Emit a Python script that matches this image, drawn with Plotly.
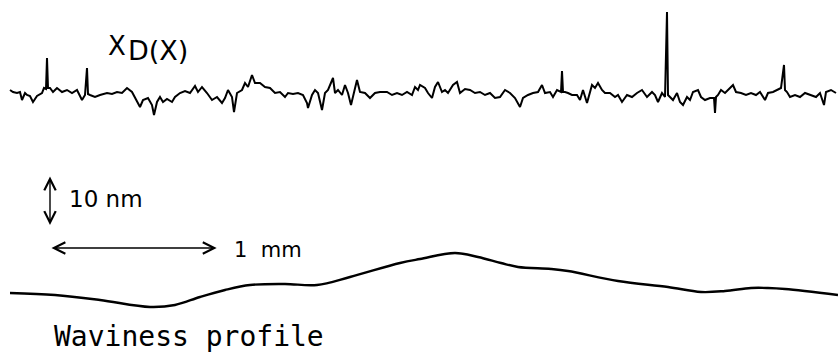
import plotly.graph_objects as go

# Roughness profile X_D(x): scan position (µm) and height (nm) about its mean line
rough_x_um = [60, 78, 102, 120, 132, 150, 162, 180, 198, 222, 252, 264, 276, 282, 288, 300, 318, 342, 372, 402,
              432, 462, 492, 510, 522, 528, 540, 570, 600, 642, 672, 702, 732, 762, 792, 822, 840, 858, 888, 912,
              924, 942, 960, 978, 1002, 1032, 1050, 1080, 1110, 1140, 1170, 1188, 1212, 1242, 1272, 1302, 1332, 1350, 1368, 1392,
              1404, 1422, 1452, 1470, 1488, 1512, 1530, 1560, 1590, 1620, 1650, 1680, 1710, 1728, 1758, 1788, 1818, 1842, 1848, 1872,
              1890, 1908, 1932, 1950, 1968, 1998, 2010, 2028, 2052, 2070, 2088, 2106, 2124, 2142, 2160, 2190, 2220, 2250, 2280, 2322,
              2352, 2382, 2412, 2442, 2472, 2490, 2508, 2520, 2550, 2568, 2592, 2610, 2628, 2652, 2670, 2688, 2718, 2742, 2760, 2790,
              2820, 2850, 2880, 2910, 2940, 2970, 3000, 3030, 3060, 3090, 3120, 3138, 3168, 3198, 3228, 3252, 3270, 3300, 3318, 3342,
              3366, 3372, 3378, 3390, 3408, 3432, 3462, 3480, 3498, 3522, 3552, 3570, 3588, 3612, 3630, 3660, 3690, 3708, 3732, 3762,
              3792, 3822, 3852, 3882, 3912, 3930, 3948, 3972, 3990, 4002, 4008, 4020, 4038, 4062, 4080, 4098, 4122, 4140, 4158, 4188,
              4206, 4230, 4260, 4284, 4290, 4296, 4308, 4326, 4350, 4380, 4398, 4416, 4446, 4476, 4506, 4536, 4560, 4590, 4608, 4638,
              4668, 4686, 4704, 4710, 4722, 4740, 4770, 4800, 4830, 4866, 4896, 4920, 4944, 4956, 4986, 5016]
rough_h_nm = [1.0, 0.6, 0.4, 0.6, -1.0, 0.4, 0.0, -0.2, -1.4, -0.2, 0.4, 1.4, 1.2, 7.4, 1.4, 1.4, 0.6, 1.4, 0.6, 1.0,
              0.4, 1.0, -1.0, 0.0, 5.4, 0.2, 0.0, -0.4, 0.0, 0.4, 0.2, 0.6, 0.4, 1.4, 0.6, -1.4, -2.4, -1.0, -0.6, -2.0,
              -4.0, -1.4, -0.4, -1.4, -0.8, -1.4, -0.4, 0.4, 0.8, 0.4, 1.8, 0.6, 1.6, 0.4, -1.0, -0.4, -1.6, -0.6, 1.0, -0.4,
              -3.4, 0.4, 1.0, 2.4, 1.6, 4.0, 2.4, 2.4, 1.6, 1.4, 0.4, 0.6, -0.4, 0.4, 0.2, 0.4, 0.0, -1.6, -2.6, 0.0,
              1.0, 0.4, -3.0, 0.4, 1.0, 3.4, 0.4, 1.0, 0.0, 2.0, 0.4, -2.0, 0.6, 3.0, 0.6, 0.4, -0.6, 0.4, 0.6, 0.6,
              0.0, 0.4, 0.0, 0.6, 0.0, 1.6, 1.0, 2.0, 1.4, 0.4, -0.6, 1.6, 2.6, 0.6, 1.0, 0.4, 2.0, 2.6, 0.4, 1.2,
              1.0, 0.4, 0.6, 0.0, 0.4, -0.6, -0.4, 1.0, 0.4, -0.6, -2.4, -0.6, 0.0, 0.4, 0.6, 2.0, 0.4, 0.6, -0.4, 1.0,
              0.6, 4.8, 0.6, 0.6, 0.4, 0.0, 0.0, -1.0, 1.0, -1.6, 2.0, 1.4, 2.4, 1.0, 0.4, 0.4, -0.4, 0.0, -1.4, 0.0,
              -0.4, 0.4, 1.0, -0.4, 0.6, 0.0, -1.4, 0.4, -0.4, 16.6, 0.0, -0.4, -1.0, 0.4, -1.4, -2.0, -0.4, -1.0, 0.6, 1.0,
              -0.4, -1.0, -0.6, -0.6, -3.6, -0.4, 0.0, 1.0, 0.4, 1.4, 2.0, 0.6, 0.4, 0.0, 0.4, 0.0, 0.6, -1.0, 0.4, 0.6,
              1.0, 1.4, 6.0, 1.0, 0.6, -0.4, 0.0, -0.4, 0.4, 0.0, -0.4, 0.4, -2.0, 0.6, 1.0, 0.4]

# Waviness profile: scan position (µm) and height (nm)
wavy_x_um = [60, 330, 600, 900, 1050, 1200, 1350, 1500, 1710, 1902, 2100, 2400, 2520, 2730, 2868, 3006, 3108, 3306,
             3408, 3708, 4008, 4206, 4350, 4506, 4608, 4710, 5028]
wavy_h_nm = [-0.6, -1.0, -2.0, -3.4, -3.0, -1.4, 0.0, 1.0, 1.2, 1.0, 2.6, 5.4, 6.2, 7.4, 6.6, 5.4, 4.6, 4.2,
             3.8, 1.8, 0.6, -0.4, -0.2, 0.4, 0.4, 0.2, -1.0]

# vertical display offsets of the two stacked traces (nm)
ROUGH_OFFSET = 51.6
WAVY_OFFSET = 12.6

fig = go.Figure()
fig.add_trace(go.Scatter(x=rough_x_um, y=[h + ROUGH_OFFSET for h in rough_h_nm], mode="lines",
                         line=dict(color="black", width=2.0), showlegend=False))
fig.add_trace(go.Scatter(x=wavy_x_um, y=[h + WAVY_OFFSET for h in wavy_h_nm], mode="lines",
                         line=dict(color="black", width=2.4, shape="spline", smoothing=1.0), showlegend=False))

font_main = "DejaVu Sans"
ann = []
ann.append(dict(x=702, y=61.4, text="X", showarrow=False, xanchor="center", yanchor="middle",
                font=dict(family=font_main, size=26, color="black")))
ann.append(dict(x=950, y=60.6, text="D(X)", showarrow=False, xanchor="center", yanchor="middle",
                font=dict(family=font_main, size=27, color="black")))
# 10 nm scale bar
ann.append(dict(x=300, y=35.3, ax=300, ay=25.3, xref="x", yref="y", axref="x", ayref="y", text="",
                showarrow=True, arrowhead=5, startarrowhead=5, arrowside="end+start",
                arrowwidth=1.4, arrowsize=1.6, startarrowsize=1.6, arrowcolor="black"))
ann.append(dict(x=402, y=30.8, text="10 nm", showarrow=False, xanchor="left", yanchor="middle",
                font=dict(family=font_main, size=23, color="black")))
# 1 mm scale bar
ann.append(dict(x=1300, y=21.0, ax=300, ay=21.0, xref="x", yref="y", axref="x", ayref="y", text="",
                showarrow=True, arrowhead=5, startarrowhead=5, arrowside="end+start",
                arrowwidth=1.4, arrowsize=1.6, startarrowsize=1.6, arrowcolor="black"))
ann.append(dict(x=1392, y=20.6, text="1\u00a0\u00a0mm", showarrow=False, xanchor="left", yanchor="middle",
                font=dict(family=font_main, size=21, color="black")))
ann.append(dict(x=312, y=3.4, text="Waviness profile", showarrow=False, xanchor="left", yanchor="middle",
                font=dict(family="DejaVu Sans Mono", size=28, color="black")))

fig.update_layout(
    width=838, height=353, margin=dict(l=0, r=0, t=0, b=0),
    paper_bgcolor="white", plot_bgcolor="white",
    xaxis=dict(range=[0, 5028], visible=False, fixedrange=True),
    yaxis=dict(range=[0, 70.6], visible=False, fixedrange=True),
    annotations=ann,
)
fig.write_html("out.html")
